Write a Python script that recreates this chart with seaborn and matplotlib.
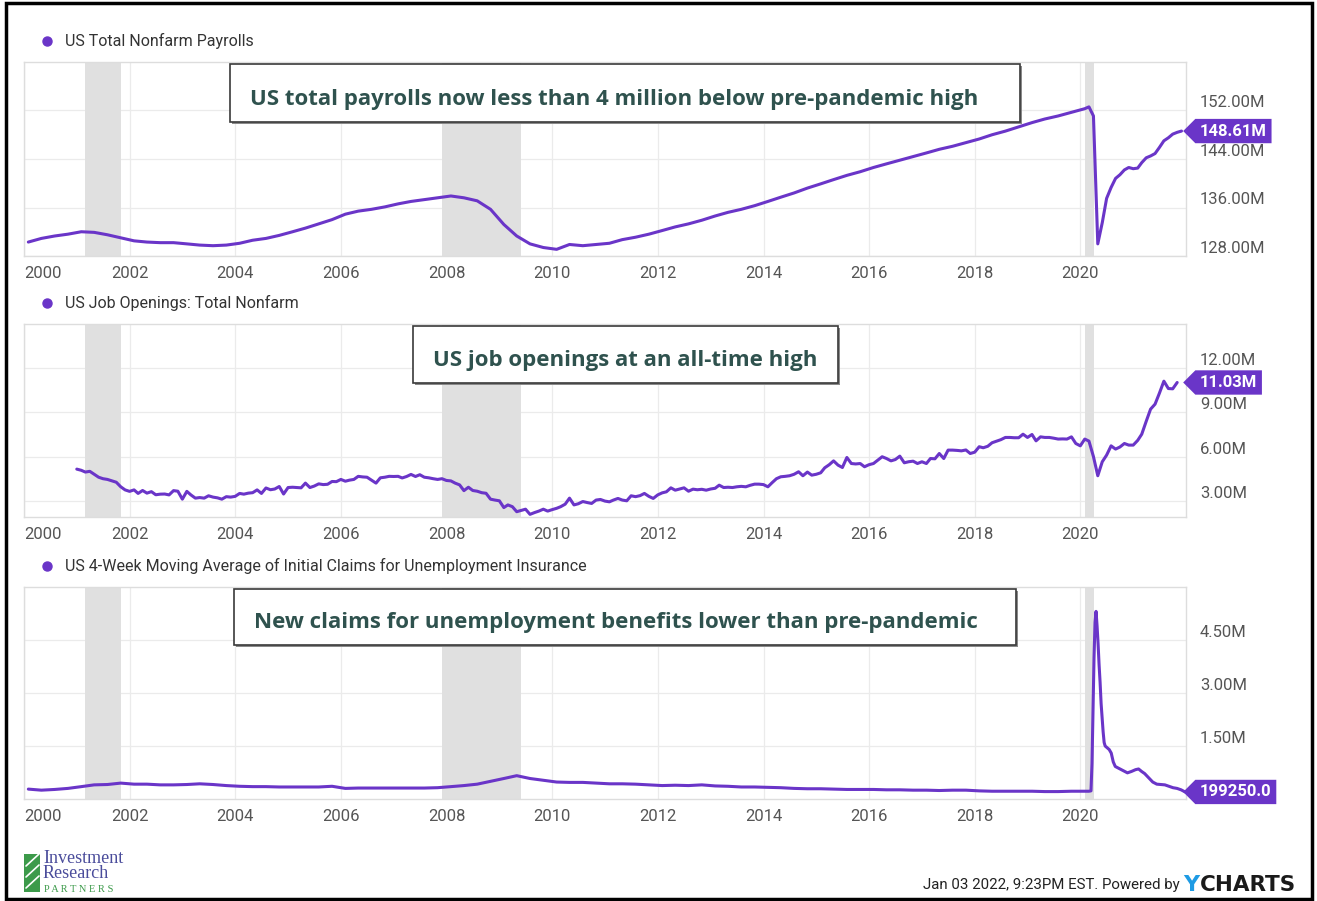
import pandas as pd
import matplotlib
matplotlib.use("Agg")
import matplotlib.pyplot as plt
import matplotlib.transforms as mtransforms
from matplotlib.path import Path
from matplotlib.patches import Rectangle
from matplotlib.lines import Line2D
import seaborn as sns

# DATA
# US total nonfarm payrolls, millions, Jan/Apr/Jul/Oct 2000-2019
payroll_quarterly = [
    130.3, 130.9, 131.3, 131.6,
    132.0, 131.9, 131.5, 131.0,
    130.5, 130.3, 130.2, 130.2,
    130.0, 129.8, 129.7, 129.8,
    130.1, 130.6, 130.9, 131.4,
    132.0, 132.6, 133.3, 134.0,
    134.9, 135.4, 135.7, 136.1,
    136.6, 137.0, 137.3, 137.6,
    137.9, 137.6, 137.1, 135.7,
    133.2, 131.3, 130.0, 129.4,
    129.1, 129.9, 129.7, 129.9,
    130.1, 130.7, 131.1, 131.6,
    132.2, 132.8, 133.3, 133.9,
    134.6, 135.2, 135.7, 136.3,
    137.0, 137.7, 138.4, 139.2,
    139.9, 140.6, 141.3, 141.9,
    142.6, 143.2, 143.8, 144.4,
    145.0, 145.6, 146.1, 146.7,
    147.3, 148.0, 148.6, 149.3,
    150.0, 150.6, 151.1, 151.7,
]
# monthly, Jan 2020 - Nov 2021
payroll_monthly = [
    152.3, 152.6, 151.1, 130.0, 133.5, 137.5, 139.3, 140.8, 141.4, 142.2, 142.6, 142.4,
    142.5, 143.4, 144.2, 144.5, 144.9, 145.9, 147.0, 147.5, 148.1, 148.4, 148.61,
]

# US job openings, millions, monthly Dec 2000 - Oct 2021
job_openings = [
    5.15,
    5.07, 4.95, 5.00, 4.80, 4.60, 4.50, 4.45, 4.35, 4.26, 3.95, 3.74, 3.64,
    3.74, 3.50, 3.70, 3.52, 3.62, 3.41, 3.45, 3.46, 3.40, 3.69, 3.65, 3.11,
    3.64, 3.40, 3.18, 3.22, 3.18, 3.34, 3.25, 3.20, 3.11, 3.28, 3.25, 3.30,
    3.50, 3.45, 3.52, 3.55, 3.74, 3.50, 3.87, 3.75, 3.80, 3.97, 3.46, 3.90,
    3.92, 3.90, 3.88, 4.20, 3.90, 4.00, 4.15, 4.10, 4.12, 4.31, 4.30, 4.45,
    4.33, 4.40, 4.45, 4.66, 4.62, 4.60, 4.40, 4.20, 4.56, 4.60, 4.66, 4.65,
    4.66, 4.55, 4.65, 4.79, 4.65, 4.77, 4.60, 4.56, 4.50, 4.45, 4.50, 4.38,
    4.35, 4.20, 4.08, 3.69, 3.92, 3.70, 3.65, 3.55, 3.51, 3.11, 3.05, 3.00,
    2.54, 2.72, 2.60, 2.26, 2.35, 2.43, 2.08, 2.20, 2.30, 2.43, 2.30, 2.40,
    2.49, 2.60, 2.77, 3.18, 2.72, 2.80, 2.95, 2.88, 2.82, 3.05, 3.09, 2.98,
    2.93, 3.05, 3.16, 3.05, 3.00, 3.34, 3.28, 3.35, 3.50, 3.30, 3.16, 3.40,
    3.54, 3.61, 3.88, 3.72, 3.80, 3.88, 3.65, 3.79, 3.75, 3.78, 3.72, 3.80,
    3.85, 4.06, 3.90, 3.92, 3.90, 3.95, 3.98, 3.95, 4.05, 4.13, 4.13, 4.10,
    3.95, 4.22, 4.50, 4.63, 4.66, 4.70, 4.80, 4.97, 4.70, 4.95, 4.74, 4.80,
    4.90, 5.24, 5.45, 5.71, 5.42, 5.26, 5.94, 5.53, 5.50, 5.53, 5.31, 5.45,
    5.53, 5.75, 5.99, 5.87, 5.71, 5.80, 6.03, 5.58, 5.65, 5.69, 5.53, 5.65,
    5.53, 5.87, 5.85, 6.21, 5.87, 6.44, 6.44, 6.42, 6.39, 6.45, 6.21, 6.30,
    6.67, 6.60, 6.70, 6.94, 7.05, 7.15, 7.30, 7.30, 7.28, 7.28, 7.52, 7.30,
    7.50, 7.07, 7.34, 7.30, 7.30, 7.25, 7.19, 7.20, 7.19, 7.34, 6.89, 6.73,
    7.19, 7.05, 6.00, 4.70, 5.65, 6.10, 6.73, 6.51, 6.65, 6.89, 6.78, 6.78,
    7.10, 7.52, 8.40, 9.22, 9.56, 10.30, 11.12, 10.62, 10.60, 11.03,
]

# 4-week avg of initial claims, millions, Jan/Apr/Jul/Oct 2000-2019
claims_quarterly = [
    0.28, 0.25, 0.27, 0.30,
    0.35, 0.40, 0.41, 0.45,
    0.42, 0.42, 0.40, 0.40,
    0.41, 0.43, 0.41, 0.38,
    0.36, 0.35, 0.35, 0.34,
    0.34, 0.34, 0.34, 0.36,
    0.30, 0.31, 0.31, 0.31,
    0.31, 0.31, 0.31, 0.32,
    0.35, 0.38, 0.42, 0.50,
    0.58, 0.66, 0.58, 0.53,
    0.48, 0.47, 0.47, 0.45,
    0.43, 0.43, 0.42, 0.40,
    0.38, 0.39, 0.38, 0.40,
    0.37, 0.36, 0.34, 0.34,
    0.33, 0.32, 0.30, 0.29,
    0.29, 0.28, 0.27, 0.27,
    0.27, 0.26, 0.26, 0.25,
    0.25, 0.24, 0.25, 0.25,
    0.23, 0.22, 0.22, 0.22,
    0.22, 0.21, 0.21, 0.22,
]
claims_recent_dates = [
    "2020-01-31", "2020-02-29", "2020-03-14", "2020-03-21", "2020-03-28",
    "2020-04-04", "2020-04-11", "2020-04-18", "2020-04-25", "2020-05-02",
    "2020-05-09", "2020-05-16", "2020-05-23", "2020-05-30", "2020-06-06",
    "2020-06-13", "2020-06-20", "2020-07-04", "2020-07-18", "2020-08-01",
    "2020-08-15", "2020-08-29", "2020-09-26", "2020-10-24", "2020-11-21",
    "2020-12-19", "2021-01-16", "2021-02-06", "2021-02-27", "2021-03-20",
    "2021-04-17", "2021-05-15", "2021-06-12", "2021-07-10", "2021-08-07",
    "2021-09-04", "2021-10-02", "2021-10-30", "2021-11-27", "2021-12-25",
]
claims_recent = [
    0.22, 0.22, 0.23, 1.00, 2.50,
    4.00, 5.00, 5.31, 4.90, 4.40,
    3.80, 3.30, 2.70, 2.30, 1.90,
    1.60, 1.50, 1.45, 1.40, 1.30,
    1.05, 0.92, 0.86, 0.80, 0.74,
    0.78, 0.83, 0.85, 0.78, 0.72,
    0.60, 0.48, 0.42, 0.41, 0.40,
    0.36, 0.32, 0.30, 0.26, 0.19925,
]

recessions = [("2001-03-01", "2001-11-01"), ("2007-12-01", "2009-06-01"), ("2020-02-01", "2020-04-01")]
year_ticks = list(range(2000, 2021, 2))

series_names = [
    "US Total Nonfarm Payrolls",
    "US Job Openings: Total Nonfarm",
    "US 4-Week Moving Average of Initial Claims for Unemployment Insurance",
]
notes = [
    "US total payrolls now less than 4 million below pre-pandemic high",
    "US job openings at an all-time high",
    "New claims for unemployment benefits lower than pre-pandemic",
]

# build frames
payroll_df = pd.DataFrame({
    "date": list(pd.date_range("2000-01-31", periods=len(payroll_quarterly), freq="3ME"))
            + list(pd.date_range("2020-01-31", periods=len(payroll_monthly), freq="ME")),
    "value": payroll_quarterly + payroll_monthly,
})
jobs_df = pd.DataFrame({
    "date": pd.date_range("2000-12-31", periods=len(job_openings), freq="ME"),
    "value": job_openings,
})
claims_df = pd.DataFrame({
    "date": list(pd.date_range("2000-01-31", periods=len(claims_quarterly), freq="3ME"))
            + list(pd.to_datetime(claims_recent_dates)),
    "value": claims_quarterly + claims_recent,
})

# STYLE
PURPLE = "#6a35c8"
NOTE_COLOR = "#2f524e"
TICK_COLOR = "#555555"
W, H = 1317, 901

sns.set_theme(style="white")
plt.rcParams["font.family"] = ["Roboto", "DejaVu Sans"]
plt.rcParams["ytick.alignment"] = "bottom"

fig = plt.figure(figsize=(W / 100, H / 100), dpi=100)


def fx(px):
    return px / W


def fy(py):
    return 1 - py / H


def tag_box(x0, y0, width, height, mutation_size):
    # price-tag shape pointing left
    pad = 0.28 * mutation_size
    x0, y0 = x0 - pad, y0 - pad
    x1, y1 = x0 + width + 2 * pad, y0 + height + 2 * pad
    tip = (y1 - y0) / 2
    ym = (y0 + y1) / 2
    return Path([(x0 - tip, ym), (x0, y1), (x1, y1), (x1, y0), (x0, y0), (x0 - tip, ym)], closed=True)


panels = [
    dict(df=payroll_df, top=62, bottom=256, ylim=(128, 160), yticks=[128, 136, 144, 152],
         fmt="{:.2f}M", tag=f"{payroll_monthly[-1]:.2f}M", tag_y=payroll_monthly[-1],
         box=(230, 64, 1020, 122)),
    dict(df=jobs_df, top=324, bottom=517, ylim=(1.9, 15.0), yticks=[3, 6, 9, 12],
         fmt="{:.2f}M", tag=f"{job_openings[-1]:.2f}M", tag_y=job_openings[-1],
         box=(413, 326, 838, 383)),
    dict(df=claims_df, top=587, bottom=799, ylim=(0, 6), yticks=[1.5, 3.0, 4.5],
         fmt="{:.2f}M", tag=f"{claims_recent[-1] * 1e6:.1f}", tag_y=claims_recent[-1],
         box=(234, 589, 1016, 645)),
]

LEFT, RIGHT = 24, 1186

for i, p in enumerate(panels):
    ax = fig.add_axes([fx(LEFT), fy(p["bottom"]), fx(RIGHT - LEFT), (p["bottom"] - p["top"]) / H])
    ax.set_axisbelow(True)

    for a, b in recessions:
        ax.axvspan(pd.Timestamp(a), pd.Timestamp(b), color="#e0e0e0", lw=0, zorder=1)

    sns.lineplot(data=p["df"], x="date", y="value", ax=ax, color=PURPLE, lw=2.2, zorder=3)

    ax.set_xlim(pd.Timestamp("2000-01-01"), pd.Timestamp("2021-12-31"))
    ax.set_ylim(*p["ylim"])
    ax.set_xticks([pd.Timestamp(f"{y}-01-01") for y in year_ticks])
    ax.set_xticklabels([str(y) for y in year_ticks])
    ax.get_xticklabels()[0].set_horizontalalignment("left")
    ax.set_yticks(p["yticks"])
    ax.set_yticklabels([p["fmt"].format(v) for v in p["yticks"]])
    ax.yaxis.tick_right()
    ax.tick_params(axis="y", length=0, pad=10, labelsize=12, labelcolor=TICK_COLOR)
    ax.tick_params(axis="x", length=0, pad=7.5, labelsize=12, labelcolor=TICK_COLOR)
    ax.grid(True, color="#ebebeb", lw=0.9)
    for s in ax.spines.values():
        s.set_color("#dddddd")
        s.set_linewidth(1)
    ax.set_xlabel("")
    ax.set_ylabel("")

    # series legend above the panel
    ax.annotate(series_names[i], xy=(0, 1), xycoords="axes fraction", xytext=(41, 21),
                textcoords="offset pixels", va="center", ha="left", fontsize=11.5, color="#333333")
    fig.add_artist(Line2D([fx(47)], [fy(p["top"] - 21)], marker="o", ms=6.5, color=PURPLE,
                          transform=fig.transFigure))

    # last value tag
    trans = mtransforms.blended_transform_factory(ax.transAxes, ax.transData)
    ax.annotate(p["tag"], xy=(1, p["tag_y"]), xycoords=trans, xytext=(14, 0),
                textcoords="offset pixels", va="center", ha="left", fontsize=12,
                fontweight="bold", color="white", annotation_clip=False, zorder=6,
                bbox=dict(boxstyle=tag_box, fc=PURPLE, ec="none"))

    # note box
    x0, y0, x1, y1 = p["box"]
    fig.add_artist(Rectangle((fx(x0 + 2), fy(y1 + 2)), fx(x1 - x0), (y1 - y0) / H,
                             transform=fig.transFigure, fc="#8a8a8a", ec="none", zorder=5))
    fig.add_artist(Rectangle((fx(x0), fy(y1)), fx(x1 - x0), (y1 - y0) / H,
                             transform=fig.transFigure, fc="white", ec="#3a3a3a", lw=1.2, zorder=6))
    fig.text(fx(x0 + 20), fy(y1 - 17), notes[i], ha="left", va="baseline", fontsize=16,
             fontweight="bold", color=NOTE_COLOR, family=["Open Sans", "DejaVu Sans"], zorder=7)

# footer: logo
fig.add_artist(Rectangle((fx(24), fy(892)), fx(16), 38 / H, transform=fig.transFigure,
                         fc="#3c9a4a", ec="none"))
for k in range(3):
    fig.add_artist(Line2D([fx(26), fx(39)], [fy(888 - k * 11), fy(876 - k * 11)], color="white",
                          lw=1.2, transform=fig.transFigure))
fig.text(fx(43), fy(866), "Investment\nResearch", fontsize=13, color="#4a4c9b", va="center",
         linespacing=0.8, family=["Liberation Serif", "DejaVu Serif"])
fig.text(fx(44), fy(889), "P A R T N E R S", fontsize=7.5, color="#3c9a4a", va="center",
         family=["Liberation Serif", "DejaVu Serif"])

# footer: source
fig.text(fx(1180), fy(885), "Jan 03 2022, 9:23PM EST. Powered by", ha="right", va="center",
         fontsize=10.8, color="#222222")
fig.text(fx(1183), fy(885), "Y", ha="left", va="center", fontsize=16, fontweight="bold",
         color="#1e9be4", family=["DejaVu Sans"])
fig.text(fx(1200), fy(885), "CHARTS", ha="left", va="center", fontsize=15.5, fontweight="bold",
         color="#1a1a1a", family=["DejaVu Sans"])

# outer frame
fig.add_artist(Rectangle((fx(6), fy(899)), fx(1306), 896 / H, transform=fig.transFigure,
                         fill=False, ec="black", lw=2.5))

fig.savefig("out.png", dpi=100)
